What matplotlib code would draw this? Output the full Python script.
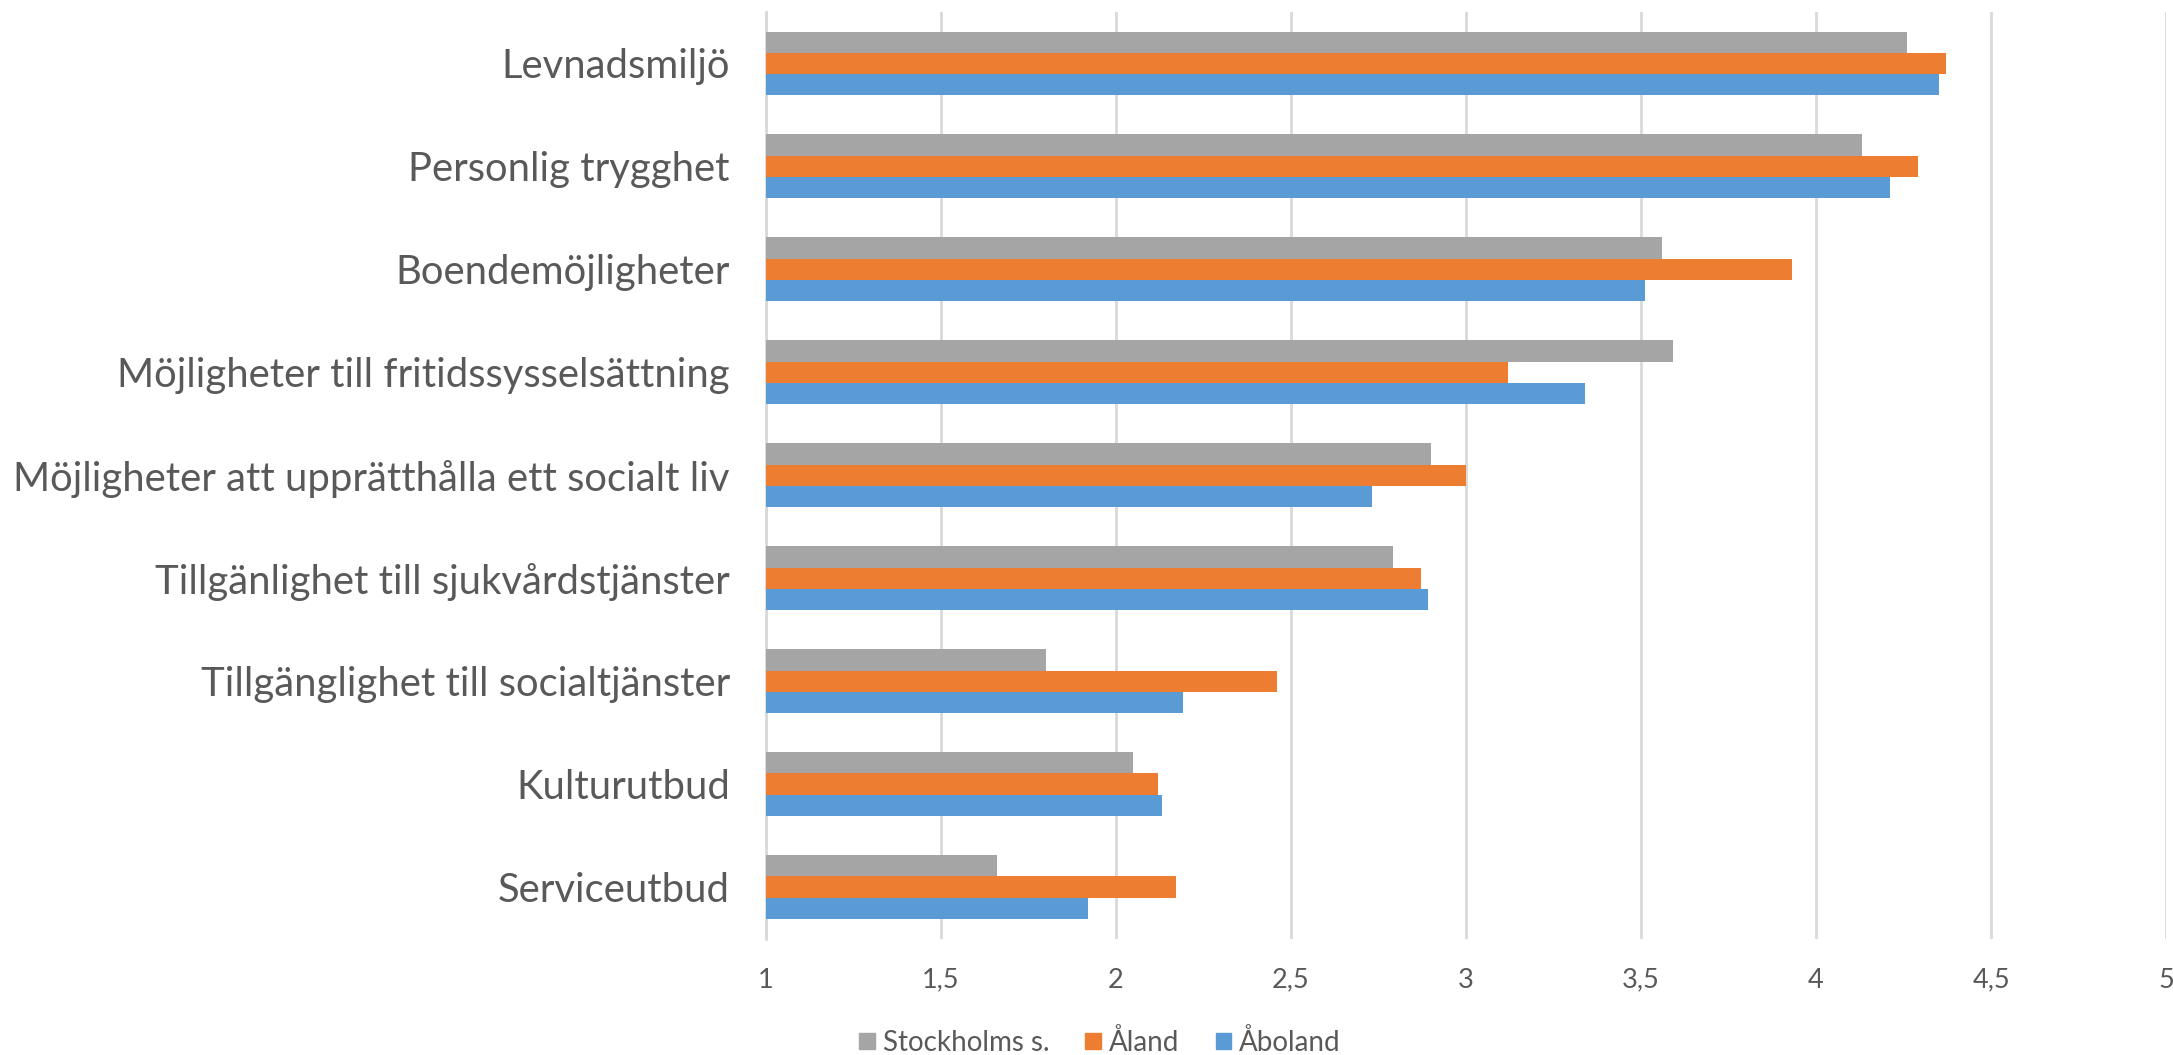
import matplotlib
matplotlib.use("Agg")
import matplotlib.pyplot as plt
from matplotlib.patches import Patch
import numpy as np

plt.rcParams['font.family'] = ['Lato', 'DejaVu Sans']

# data (top to bottom as shown)
categories = [
    "Levnadsmiljö",
    "Personlig trygghet",
    "Boendemöjligheter",
    "Möjligheter till fritidssysselsättning",
    "Möjligheter att upprätthålla ett socialt liv",
    "Tillgänlighet till sjukvårdstjänster",
    "Tillgänglighet till socialtjänster",
    "Kulturutbud",
    "Serviceutbud",
]
stockholm = [4.26, 4.13, 3.56, 3.59, 2.90, 2.79, 1.80, 2.05, 1.66]
aland = [4.37, 4.29, 3.93, 3.12, 3.00, 2.87, 2.46, 2.12, 2.17]
aboland = [4.35, 4.21, 3.51, 3.34, 2.73, 2.89, 2.19, 2.13, 1.92]
series_names = ["Stockholms s.", "Åland", "Åboland"]
xticks = [1, 1.5, 2, 2.5, 3, 3.5, 4, 4.5, 5]

colors = ["#A5A5A5", "#ED7D31", "#5B9BD5"]
text_color = "#595959"
grid_color = "#D9D9D9"

fig = plt.figure(figsize=(21.73, 10.55), dpi=100)
ax = fig.add_axes([0.3525, 0.1104, 0.9968 - 0.3525, 0.9886 - 0.1104])

y = np.arange(len(categories))
h = 0.207
base = 1
for k, vals in enumerate([stockholm, aland, aboland]):
    ax.barh(y + (k - 1) * h, np.array(vals) - base, height=h, left=base,
            color=colors[k], linewidth=0, zorder=3)

ax.set_xlim(1, 5)
ax.set_ylim(len(categories) - 0.5, -0.5)
ax.set_xticks(xticks)
ax.set_xticklabels([str(t).replace(".", ",") for t in xticks])
ax.set_yticks(y)
ax.set_yticklabels(categories)

ax.xaxis.grid(True, color=grid_color, linewidth=2, zorder=0)
ax.tick_params(axis='x', length=0, pad=21, labelsize=19.5, labelcolor=text_color)
ax.tick_params(axis='y', length=0, pad=26, labelsize=28.8, labelcolor=text_color)
for s in ["top", "right", "bottom"]:
    ax.spines[s].set_visible(False)
ax.spines["left"].set_color(grid_color)
ax.spines["left"].set_linewidth(2)

handles = [Patch(color=c, label=n) for c, n in zip(colors, series_names)]
fig.legend(handles=handles, loc="center", bbox_to_anchor=(1100 / 2173, 0.012),
           ncol=3, frameon=False, fontsize=20, labelcolor=text_color,
           handlelength=0.55, handleheight=0.55, handletextpad=0.3,
           columnspacing=1.3, borderpad=0)

fig.savefig("out.png", dpi=100)
